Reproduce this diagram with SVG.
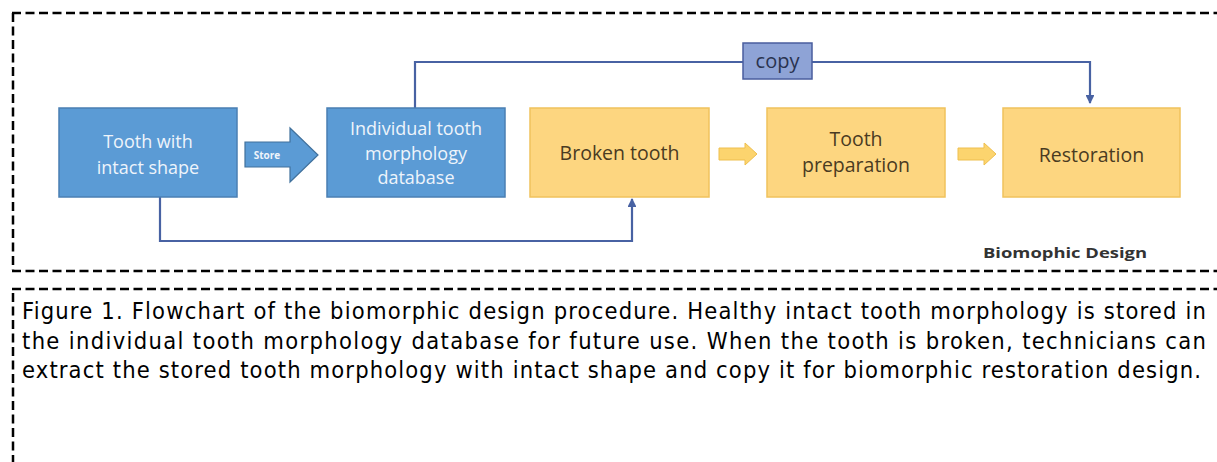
<svg xmlns="http://www.w3.org/2000/svg" width="1217" height="462" viewBox="0 0 1217 462">
<defs>
<style>
.frame{fill:none;stroke:#000;stroke-width:2.5;stroke-dasharray:9 4.5}
.blue{fill:#5b9bd5;stroke:#4a7fb3;stroke-width:1.5}
.yel{fill:#fdd680;stroke:#f0c25c;stroke-width:1.5}
.wt{font-family:"Open Sans","Noto Sans",sans-serif;font-size:18px;fill:#eef4fb;text-anchor:middle}
.yt{font-family:"Open Sans","Noto Sans",sans-serif;font-size:19.5px;fill:#4a3b22;text-anchor:middle}
.conn{fill:none;stroke:#4862a3;stroke-width:2.2}
.cap{font-family:"DejaVu Sans Condensed","DejaVu Sans",sans-serif;font-size:23.5px;fill:#000}
</style>
<marker id="ah" viewBox="0 0 10 10" refX="9" refY="5" markerWidth="4" markerHeight="4" orient="auto-start-reverse" markerUnits="strokeWidth">
<path d="M0,0 L10,5 L0,10 z" fill="#4862a3"/>
</marker>
</defs>
<rect width="1217" height="462" fill="#fff"/>
<g id="frame">
<path class="frame" d="M12,13 H1217 M13,13 V270 M12,271 H1217 M12,289 H1217 M13,293 V462"/>
</g>
<g id="connectors">
<path class="conn" d="M415,108 V62 H743 M812,62 H1090 V103" marker-end="url(#ah)"/>
<path class="conn" d="M160,197 V241 H632 V199" marker-end="url(#ah)"/>
</g>
<g id="n-copy">
<rect x="743" y="43" width="69" height="36" fill="#8ea3d6" stroke="#4a5e9e" stroke-width="1.5"/>
<text x="777.5" y="67.5" font-family="Open Sans,Noto Sans,sans-serif" font-size="20" fill="#2a3350" text-anchor="middle">copy</text>
</g>
<g id="n-intact">
<rect class="blue" x="59" y="108" width="178" height="89"/>
<text class="wt" x="148" y="148" font-size="19.5">Tooth with</text>
<text class="wt" x="148" y="174" font-size="19.5">intact shape</text>
</g>
<g id="n-store">
<path d="M245,142 H290 V128 L318,155 L290,182 V167 H245 Z" fill="#5b9bd5" stroke="#41719c" stroke-width="1.2"/>
<text x="267" y="159" font-family="Open Sans,Noto Sans,sans-serif" font-size="10" font-weight="bold" fill="#eef4fb" text-anchor="middle">Store</text>
</g>
<g id="n-db">
<rect class="blue" x="327" y="108" width="178" height="89"/>
<text class="wt" x="416" y="135">Individual tooth</text>
<text class="wt" x="416" y="159.5">morphology</text>
<text class="wt" x="416" y="184">database</text>
</g>
<g id="n-broken">
<rect class="yel" x="530" y="108" width="179" height="89"/>
<text class="yt" x="619.5" y="160">Broken tooth</text>
</g>
<g id="a1">
<path d="M719,148 H745 V143 L757,154 L745,165 V160 H719 Z" fill="#fcd46e" stroke="#eebf4f" stroke-width="1"/>
</g>
<g id="n-prep">
<rect class="yel" x="767" y="108" width="178" height="89"/>
<text class="yt" x="856" y="146" font-size="18.5">Tooth</text>
<text class="yt" x="856" y="172" font-size="18.5">preparation</text>
</g>
<g id="a2">
<path d="M958,148 H984 V143 L996,154 L984,165 V160 H958 Z" fill="#fcd46e" stroke="#eebf4f" stroke-width="1"/>
</g>
<g id="n-rest">
<rect class="yel" x="1003" y="108" width="177" height="89"/>
<text class="yt" x="1091.5" y="162">Restoration</text>
</g>
<g id="title">
<text x="1065" y="258" font-family="Open Sans,Noto Sans,sans-serif" font-size="15" font-weight="bold" fill="#333" text-anchor="middle" textLength="164" lengthAdjust="spacingAndGlyphs">Biomophic Design</text>
</g>
<g id="caption">
<text class="cap" x="22" y="319" textLength="1184" lengthAdjust="spacing">Figure 1. Flowchart of the biomorphic design procedure. Healthy intact tooth morphology is stored in</text>
<text class="cap" x="22" y="348.5" textLength="1184" lengthAdjust="spacing">the individual tooth morphology database for future use. When the tooth is broken, technicians can</text>
<text class="cap" x="22" y="378" textLength="1179" lengthAdjust="spacing">extract the stored tooth morphology with intact shape and copy it for biomorphic restoration design.</text>
</g>
</svg>
